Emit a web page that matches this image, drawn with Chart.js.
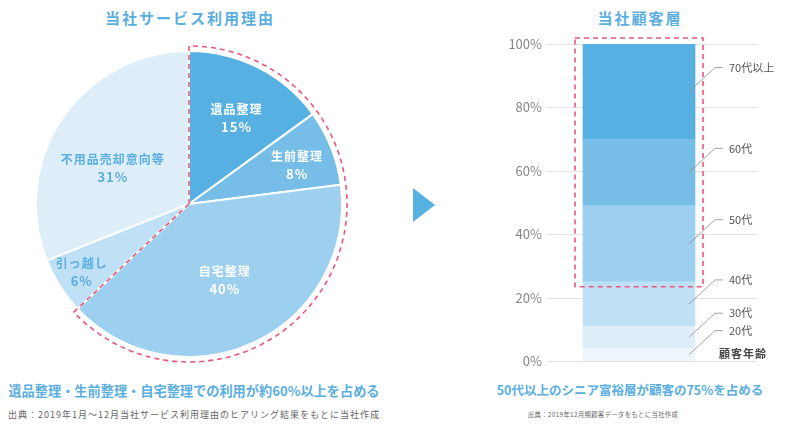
<!DOCTYPE html>
<html>
<head>
<meta charset="utf-8">
<script src="https://cdn.jsdelivr.net/npm/chart.js@4.4.0/dist/chart.umd.min.js"></script>
<style>
  body { margin: 0; width: 787px; height: 425px; background: #fff; position: relative; overflow: hidden;
         font-family: "Noto Sans CJK JP", "Noto Sans", sans-serif; }
  .t { position: absolute; white-space: nowrap; text-align: center; line-height: 1; }
  .title { color: #5aaee0; font-size: 15px; font-weight: bold; letter-spacing: 2px; }
  .cap { color: #5aaee0; font-weight: bold; }
  .src { color: #666; font-size: 9px; letter-spacing: 1px; }
  #pieBox { position: absolute; left: 24px; top: 39px; width: 330px; height: 330px; }
  #barBox { position: absolute; left: 490px; top: 30px; width: 297px; height: 345px; }
  .arrow { position: absolute; left: 413px; top: 188px; width: 0; height: 0;
           border-left: 22px solid #56b0e1; border-top: 17px solid transparent; border-bottom: 17px solid transparent; }
</style>
</head>
<body>
<div class="t title" style="left:40px; top:10px; width:300px;">当社サービス利用理由</div>
<div class="t title" style="left:540px; top:10px; width:200px;">当社顧客層</div>

<div id="pieBox"><canvas id="pie" width="330" height="330"></canvas></div>
<div class="arrow"></div>
<div id="barBox"><canvas id="bar" width="297" height="345"></canvas></div>

<div class="t cap" style="left:0; top:384px; width:388px; font-size:13.2px;">遺品整理・生前整理・自宅整理での利用が約60%以上を占める</div>
<div class="t cap" style="left:430px; top:384px; width:400px; font-size:12.5px;">50代以上のシニア富裕層が顧客の75%を占める</div>
<div class="t src" style="left:0; top:410px; width:388px;">出典：2019年1月～12月当社サービス利用理由のヒアリング結果をもとに当社作成</div>
<div class="t src" style="left:453px; top:412px; width:300px; font-size:6.3px; letter-spacing:0.4px;">出典：2019年12月期顧客データをもとに当社作成</div>

<script>
// 当社サービス利用理由 (%)
const reasonLabels = ["遺品整理", "生前整理", "自宅整理", "引っ越し", "不用品売却意向等"];
const reasonValues = [15, 8, 40, 6, 31];

// 当社顧客層 (%), bottom to top
const ageLabels = ["20代", "30代", "40代", "50代", "60代", "70代以上"];
const ageValues = [4, 7, 14, 24, 21, 30];
const yTicks = [0, 20, 40, 60, 80, 100];

const FONT = '"Noto Sans CJK JP", "Noto Sans", sans-serif';
const pieColors = ["#56b0e1", "#76bee7", "#9dd0ef", "#c0e1f5", "#ddeef9"];
const ageColors = ["#eef6fc", "#ddeef9", "#c0e1f5", "#9dd0ef", "#76bee7", "#56b0e1"];
// where each slice label sits: fraction of radius, nudge in degrees
const labelRadius = [0.64, 0.75, 0.55, 0.83, 0.55];
const labelNudge = [2, 2, 0, 0, -9];
const dashRed = "#e9577c";

// slice labels + dashed outline around the first three slices
const pieExtras = {
  id: "pieExtras",
  afterDatasetsDraw(chart) {
    const ctx = chart.ctx;
    const arcs = chart.getDatasetMeta(0).data;
    ctx.save();
    ctx.textAlign = "center";
    ctx.textBaseline = "middle";
    ctx.letterSpacing = "1px";
    arcs.forEach((arc, i) => {
      const mid = (arc.startAngle + arc.endAngle) / 2 + labelNudge[i] * Math.PI / 180;
      const r = arc.outerRadius * labelRadius[i];
      const x = arc.x + Math.cos(mid) * r;
      const y = arc.y + Math.sin(mid) * r;
      ctx.fillStyle = i < 3 ? "#fff" : "#5aaee0";
      ctx.font = "bold 12px " + FONT;
      ctx.fillText(reasonLabels[i], x, y - 9);
      ctx.font = "bold 13px " + FONT;
      ctx.fillText(reasonValues[i] + "%", x, y + 9);
    });

    const a0 = arcs[0], a2 = arcs[2];
    const R = a0.outerRadius + 5;
    ctx.setLineDash([5, 4]);
    ctx.lineWidth = 1.6;
    ctx.strokeStyle = dashRed;
    ctx.beginPath();
    ctx.moveTo(a0.x, a0.y);
    ctx.lineTo(a0.x + Math.cos(a0.startAngle) * R, a0.y + Math.sin(a0.startAngle) * R);
    ctx.arc(a0.x, a0.y, R, a0.startAngle, a2.endAngle);
    ctx.closePath();
    ctx.stroke();
    ctx.restore();
  }
};

new Chart(document.getElementById("pie"), {
  type: "pie",
  data: {
    labels: reasonLabels,
    datasets: [{
      data: reasonValues,
      backgroundColor: pieColors,
      borderColor: "#fff",
      borderWidth: 2
    }]
  },
  options: {
    responsive: false,
    animation: false,
    layout: { padding: 11 },
    plugins: { legend: { display: false }, tooltip: { enabled: false } }
  },
  plugins: [pieExtras]
});

// gridlines reaching past the bar, leader-line labels and the dashed box
const barExtras = {
  id: "barExtras",
  beforeDatasetsDraw(chart) {
    const ctx = chart.ctx;
    const y = chart.scales.y;
    const area = chart.chartArea;
    ctx.save();
    ctx.strokeStyle = "#e3e3e3";
    ctx.lineWidth = 1;
    yTicks.forEach((v) => {
      const py = Math.round(y.getPixelForValue(v)) + 0.5;
      ctx.beginPath();
      ctx.moveTo(area.left, py);
      ctx.lineTo(area.right + 26, py);
      ctx.stroke();
    });
    ctx.restore();
  },
  afterDatasetsDraw(chart) {
    const ctx = chart.ctx;
    const yScale = chart.scales.y;
    ctx.save();
    let barEl;
    ageLabels.forEach((label, i) => {
      const el = chart.getDatasetMeta(i).data[0];
      barEl = el;
      const midY = (el.y + el.base) / 2;
      const x0 = el.x + el.width / 2 - 6;
      ctx.strokeStyle = "#8a8a8a";
      ctx.lineWidth = 0.8;
      ctx.beginPath();
      ctx.moveTo(x0, midY);
      ctx.lineTo(x0 + 26, midY - 24);
      ctx.lineTo(x0 + 34, midY - 24);
      ctx.stroke();
      ctx.fillStyle = "#555";
      ctx.font = "11px " + FONT;
      ctx.textAlign = "left";
      ctx.textBaseline = "middle";
      ctx.fillText(label, x0 + 40, midY - 24);
    });
    const right = barEl.x + barEl.width / 2;
    const left = barEl.x - barEl.width / 2;
    ctx.fillStyle = "#444";
    ctx.font = "bold 11px " + FONT;
    ctx.letterSpacing = "1px";
    ctx.fillText("顧客年齢", right + 24, yScale.getPixelForValue(0) - 7);

    // dashed highlight around 50代 and above
    const el50 = chart.getDatasetMeta(3).data[0];
    const top = yScale.getPixelForValue(100) - 6;
    const bottom = el50.base + 5;
    ctx.setLineDash([5, 4]);
    ctx.lineWidth = 1.6;
    ctx.strokeStyle = dashRed;
    ctx.strokeRect(left - 8, top, barEl.width + 16, bottom - top);
    ctx.restore();
  }
};

new Chart(document.getElementById("bar"), {
  type: "bar",
  data: {
    labels: ["顧客年齢"],
    datasets: ageLabels.map((label, i) => ({
      label: label,
      data: [ageValues[i]],
      backgroundColor: ageColors[i],
      borderWidth: 0,
      barThickness: 112
    }))
  },
  options: {
    responsive: false,
    animation: false,
    layout: { padding: { top: 14, bottom: 14, left: 0, right: 56 } },
    plugins: { legend: { display: false }, tooltip: { enabled: false } },
    scales: {
      x: { stacked: true, display: false },
      y: {
        stacked: true,
        min: 0,
        max: 100,
        afterFit(scale) { scale.width = 57; },
        afterBuildTicks(scale) { scale.ticks = yTicks.map((v) => ({ value: v })); },
        ticks: {
          callback: (v) => v + "%",
          color: "#888",
          padding: 5,
          font: { size: 13, family: FONT }
        },
        grid: { display: false, drawTicks: false, tickLength: 0 },
        border: { display: false }
      }
    }
  },
  plugins: [barExtras]
});
</script>
</body>
</html>
